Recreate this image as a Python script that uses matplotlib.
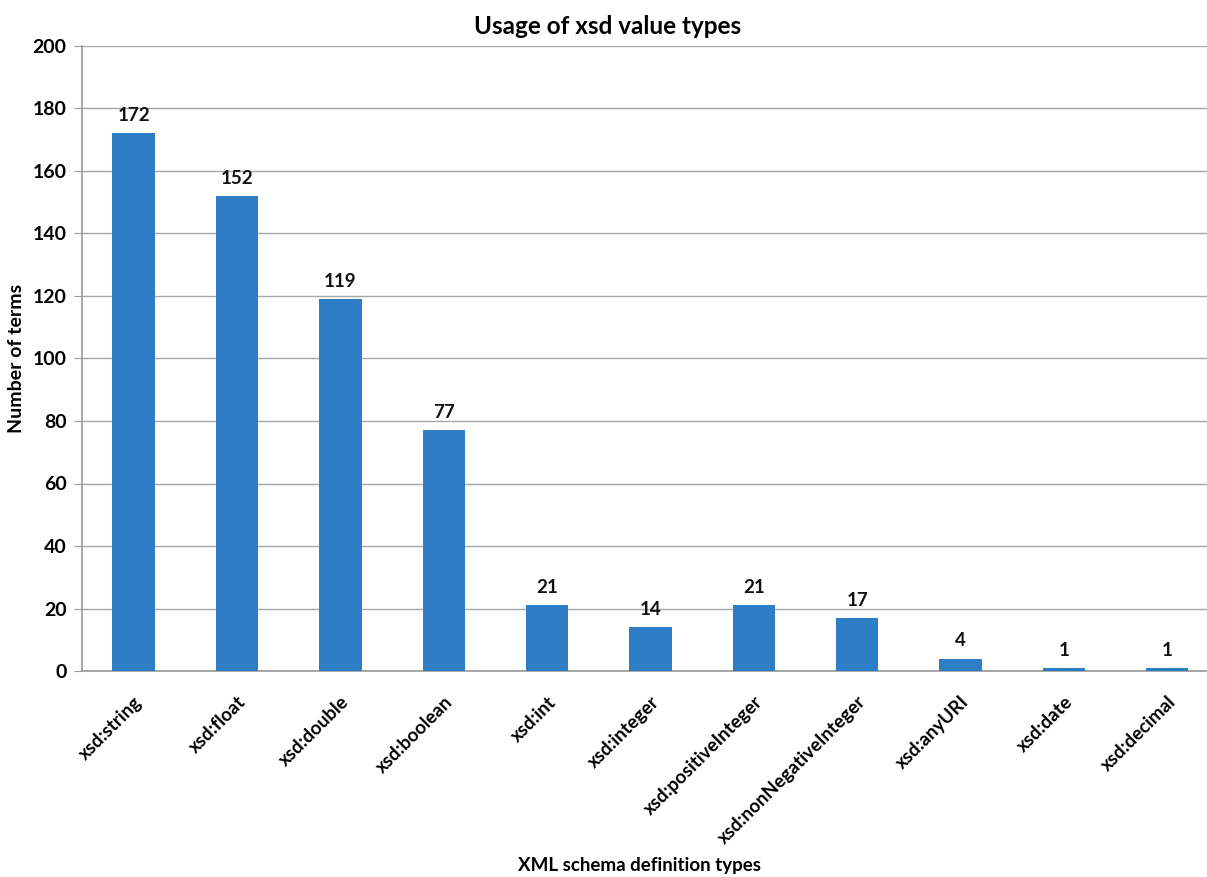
import matplotlib
matplotlib.use("Agg")
import matplotlib.pyplot as plt

categories = ["xsd:string", "xsd:float", "xsd:double", "xsd:boolean", "xsd:int",
              "xsd:integer", "xsd:positiveInteger", "xsd:nonNegativeInteger",
              "xsd:anyURI", "xsd:date", "xsd:decimal"]
values = [172, 152, 119, 77, 21, 14, 21, 17, 4, 1, 1]
yticks = [0, 20, 40, 60, 80, 100, 120, 140, 160, 180, 200]

plt.rcParams['font.family'] = ['Lato', 'DejaVu Sans']

fig = plt.figure(figsize=(12.07, 8.77), dpi=100)
ax = fig.add_axes([82/1207, 1-671/877, 1-82/1207, (671-46)/877])

x = list(range(len(categories)))
ax.bar(x, values, width=0.41, color="#2E7EC6", zorder=3)
for xi, v in zip(x, values):
    ax.text(xi, v + 3, str(v), ha='center', va='bottom', fontsize=13.5,
            fontweight='bold', color='#111111')

ax.set_xlim(-0.5, 10.385)
ax.set_ylim(0, 200)
ax.set_yticks(yticks)
ax.set_yticklabels([str(t) for t in yticks], fontsize=14, fontweight='bold')
ax.set_xticks(x)
ax.set_xticklabels(categories, rotation=45, ha='right', rotation_mode='anchor',
                   fontsize=13.5, fontweight='bold')
ax.tick_params(axis='x', length=0, pad=16)
ax.tick_params(axis='y', length=6, color='#999999', pad=5)
ax.grid(axis='y', color='#A6A6A6', linewidth=1.0, zorder=0)
for s in ['top', 'right']:
    ax.spines[s].set_visible(False)
ax.spines['left'].set_color('#999999')
ax.spines['bottom'].set_color('#999999')
ax.spines['left'].set_linewidth(1.2)
ax.spines['bottom'].set_linewidth(1.2)

fig.text(608/1207, 1-27/877, "Usage of xsd value types", ha='center', va='center',
         fontsize=17.5, fontweight='bold')
fig.text(17/1207, 1-358/877, "Number of terms", ha='center', va='center',
         rotation=90, fontsize=14, fontweight='bold')
fig.text(640/1207, 1-865/877, "XML schema definition types", ha='center', va='center',
         fontsize=13.5, fontweight='bold')

fig.savefig("out.png", dpi=100)
